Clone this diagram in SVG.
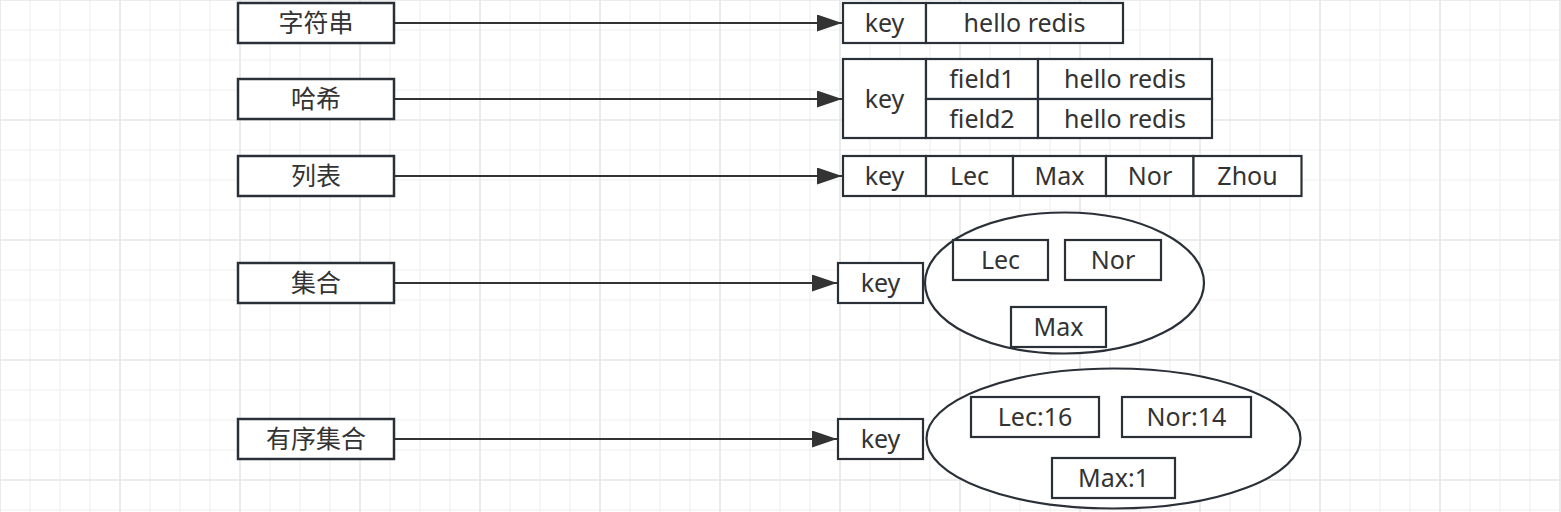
<svg xmlns="http://www.w3.org/2000/svg" width="1561" height="512" viewBox="0 0 1561 512">
<style>
.box{fill:#fff;stroke:#2a3038;stroke-width:2.5}
.cell{fill:#fff;stroke:#2a3038;stroke-width:2.2}
.ell{fill:#fff;stroke:#2a3038;stroke-width:2.2}
.t{font-family:"Noto Sans","Noto Sans CJK SC",sans-serif;font-size:25px;fill:#333;text-anchor:middle}
.c{font-family:"Noto Sans CJK SC","Noto Sans",sans-serif;font-size:25px;fill:#333;text-anchor:middle}
.edge{stroke:#333;stroke-width:2;fill:none}
</style>
<defs>
<pattern id="grid" width="120" height="120" patternUnits="userSpaceOnUse">
<path d="M30 0V120M60 0V120M90 0V120M0 30H120M0 60H120M0 90H120" stroke="#f0f0f0" stroke-width="1.2"/>
<path d="M0 0V120M120 0V120M0 0H120M0 120H120" stroke="#e6e6e6" stroke-width="1.6"/>
</pattern>
<marker id="arr" markerUnits="userSpaceOnUse" markerWidth="26" markerHeight="18" refX="25" refY="8.5" orient="auto">
<path d="M0 0L25 8.5L0 17Z" fill="#333"/>
</marker>
</defs>
<rect width="1561" height="512" fill="#fff"/>
<rect width="1561" height="512" fill="url(#grid)"/>

<g id="connectors">
<path class="edge" d="M394 23H842" marker-end="url(#arr)"/>
<path class="edge" d="M394 99H842" marker-end="url(#arr)"/>
<path class="edge" d="M394 176H842" marker-end="url(#arr)"/>
<path class="edge" d="M394 283H837" marker-end="url(#arr)"/>
<path class="edge" d="M394 439H837" marker-end="url(#arr)"/>
</g>

<g id="n-string">
<rect class="box" x="238" y="3" width="156" height="40"/>
<text class="c" x="316" y="32">字符串</text>
</g>
<g id="n-hash">
<rect class="box" x="238" y="79" width="156" height="40"/>
<text class="c" x="316" y="108">哈希</text>
</g>
<g id="n-list">
<rect class="box" x="238" y="156" width="156" height="40"/>
<text class="c" x="316" y="185">列表</text>
</g>
<g id="n-set">
<rect class="box" x="238" y="263" width="156" height="40"/>
<text class="c" x="316" y="292">集合</text>
</g>
<g id="n-zset">
<rect class="box" x="238" y="419" width="156" height="40"/>
<text class="c" x="316" y="448">有序集合</text>
</g>

<g id="v-string">
<rect class="cell" x="843" y="3" width="83" height="40"/>
<rect class="cell" x="926" y="3" width="197" height="40"/>
<text class="t" x="884.5" y="32">key</text>
<text class="t" x="1024.5" y="32">hello redis</text>
</g>

<g id="v-hash">
<rect class="cell" x="843" y="59" width="83" height="79"/>
<rect class="cell" x="926" y="59" width="112" height="40"/>
<rect class="cell" x="1038" y="59" width="174" height="40"/>
<rect class="cell" x="926" y="99" width="112" height="39"/>
<rect class="cell" x="1038" y="99" width="174" height="39"/>
<text class="t" x="884.5" y="108">key</text>
<text class="t" x="982" y="88">field1</text>
<text class="t" x="1125" y="88">hello redis</text>
<text class="t" x="982" y="128">field2</text>
<text class="t" x="1125" y="128">hello redis</text>
</g>

<g id="v-list">
<rect class="cell" x="843" y="156" width="83" height="40"/>
<rect class="cell" x="926" y="156" width="87" height="40"/>
<rect class="cell" x="1013" y="156" width="93" height="40"/>
<rect class="cell" x="1106" y="156" width="87.5" height="40"/>
<rect class="cell" x="1193.5" y="156" width="108" height="40"/>
<text class="t" x="884.5" y="185">key</text>
<text class="t" x="969.5" y="185">Lec</text>
<text class="t" x="1059.5" y="185">Max</text>
<text class="t" x="1150" y="185">Nor</text>
<text class="t" x="1247.5" y="185">Zhou</text>
</g>

<g id="v-set">
<rect class="cell" x="838" y="263" width="85" height="40"/>
<text class="t" x="880.5" y="292">key</text>
<ellipse class="ell" cx="1064.5" cy="283" rx="139.5" ry="70.5"/>
<rect class="cell" x="953" y="240" width="95" height="40"/>
<text class="t" x="1000.5" y="269">Lec</text>
<rect class="cell" x="1065" y="240" width="96" height="40"/>
<text class="t" x="1113" y="269">Nor</text>
<rect class="cell" x="1011" y="307" width="95" height="40"/>
<text class="t" x="1058.5" y="336">Max</text>
</g>

<g id="v-zset">
<rect class="cell" x="838" y="419" width="85" height="40"/>
<text class="t" x="880.5" y="448">key</text>
<ellipse class="ell" cx="1113.5" cy="438.5" rx="187" ry="70"/>
<rect class="cell" x="971" y="397" width="128" height="40"/>
<text class="t" x="1035" y="426">Lec:16</text>
<rect class="cell" x="1122" y="397" width="129" height="40"/>
<text class="t" x="1186.5" y="426">Nor:14</text>
<rect class="cell" x="1052" y="458" width="123" height="40"/>
<text class="t" x="1113.5" y="487">Max:1</text>
</g>
</svg>
